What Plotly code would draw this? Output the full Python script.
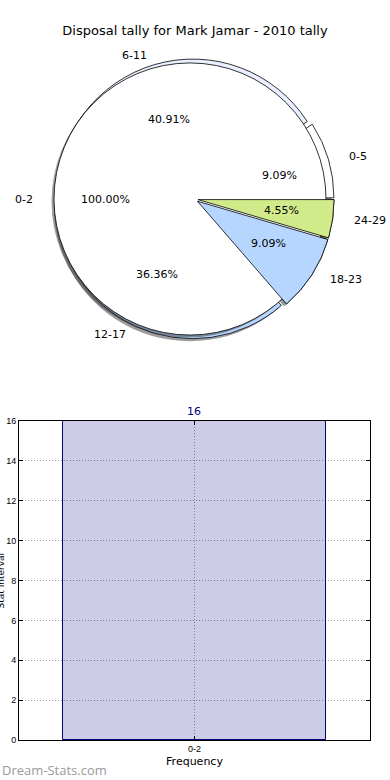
import math
import plotly.graph_objects as go

# ---------------- data ----------------
title_text = "Disposal tally for Mark Jamar - 2010 tally"

pie_labels = ["0-5", "6-11", "12-17", "18-23", "24-29"]
pie_counts = [2, 9, 8, 2, 1]
pie_colors = ["#ffffff", "#e8efff", "#b6d6ff", "#b6d6ff", "#d1eb8b"]
pie_explode = [0.03, 0.03, 0.03, 0.03, 0.03]

overlay_labels = ["0-2"]
overlay_counts = [16]
overlay_colors = ["#ffffff"]

bar_categories = ["0-2"]
bar_values = [16]
y_tick_values = [0, 2, 4, 6, 8, 10, 12, 14, 16]

# ---------------- geometry (pixels) ----------------
W, H = 390, 780
CX, CY = 194, 199          # centre of the exploded pie
BX = 190                   # centre x of the overlay pie
R = 136                    # drawn pie radius
RX, RY = 141, 132          # label placement radii
SHX, SHY = -2.5, 2.5       # shadow offset


def px(x):
    return x / W


def py(y):
    return 1 - y / H


def dom(cx, cy, half):
    return dict(x=[px(cx - half), px(cx + half)], y=[py(cy + half), py(cy - half)])


maxpull = max(pie_explode)
halfA = R * (1 + maxpull)
halfB = R

# plotly puts the first counter-clockwise slice clockwise of `rotation`;
# shift so that the first slice starts at 3 o'clock and runs counter-clockwise
rot_main = 90 - 360 * pie_counts[0] / sum(pie_counts)

fig = go.Figure()

common = dict(sort=False, direction="counterclockwise",
              textinfo="none", hoverinfo="skip", showlegend=False)

shadow_col = "rgba(40,40,40,0.45)"
# shadow of exploded pie
fig.add_trace(go.Pie(labels=pie_labels, values=pie_counts, pull=pie_explode, rotation=rot_main,
                     marker=dict(colors=[shadow_col] * len(pie_counts), line=dict(width=0)),
                     domain=dom(CX + SHX, CY + SHY, halfA), **common))
# exploded pie
fig.add_trace(go.Pie(labels=pie_labels, values=pie_counts, pull=pie_explode, rotation=rot_main,
                     marker=dict(colors=pie_colors, line=dict(color="black", width=0.8)),
                     domain=dom(CX, CY, halfA), **common))
# shadow of overlay pie
fig.add_trace(go.Pie(labels=overlay_labels, values=overlay_counts, rotation=90,
                     marker=dict(colors=[shadow_col], line=dict(width=0)),
                     domain=dom(BX + SHX, CY + SHY, halfB), **common))
# overlay pie
fig.add_trace(go.Pie(labels=overlay_labels, values=overlay_counts, rotation=90,
                     marker=dict(colors=overlay_colors, line=dict(color="black", width=0.8)),
                     domain=dom(BX, CY, halfB), **common))
# front slices of exploded pie (18-23, 24-29)
front = [lab in ("18-23", "24-29") for lab in pie_labels]
fig.add_trace(go.Pie(labels=pie_labels, values=pie_counts, pull=pie_explode, rotation=rot_main,
                     marker=dict(colors=[c if f else "rgba(0,0,0,0)" for c, f in zip(pie_colors, front)],
                                 line=dict(color=["black" if f else "rgba(0,0,0,0)" for f in front],
                                           width=[0.8 if f else 0 for f in front])),
                     domain=dom(CX, CY, halfA), **common))

# ---------------- pie labels (computed from data) ----------------
lab_font = dict(family="DejaVu Sans", size=11, color="black")


def add_pie_labels(labels, counts, explode, cx):
    total = sum(counts)
    start = 0.0
    for lab, cnt, ex in zip(labels, counts, explode):
        frac = cnt / total
        mid = math.radians((start + frac / 2) * 360)
        start += frac
        c, s = math.cos(mid), math.sin(mid)
        ox, oy = cx + ex * RX * c, CY - ex * RY * s
        lx, ly = ox + 1.1 * RX * c, oy - 1.1 * RY * s
        fig.add_annotation(x=px(lx), y=py(ly), xref="paper", yref="paper",
                           text=lab, showarrow=False, font=lab_font,
                           xanchor="left" if c > 0 else "right", yanchor="middle")
        tx, ty = ox + 0.6 * RX * c, oy - 0.6 * RY * s
        fig.add_annotation(x=px(tx), y=py(ty), xref="paper", yref="paper",
                           text=f"{frac * 100:.2f}%", showarrow=False, font=lab_font,
                           xanchor="center", yanchor="middle")


add_pie_labels(pie_labels, pie_counts, pie_explode, CX)
add_pie_labels(overlay_labels, overlay_counts, [0.0], BX)

# ---------------- bar chart ----------------
fig.add_trace(go.Bar(x=bar_categories, y=bar_values, width=0.75,
                     marker=dict(color="rgba(0,0,128,0.2)", line=dict(color="#000080", width=1)),
                     text=[str(v) for v in bar_values], textposition="outside",
                     textfont=dict(family="DejaVu Sans", size=11, color="#000080"),
                     cliponaxis=False, hoverinfo="skip", showlegend=False))

axis_common = dict(showline=True, linecolor="black", linewidth=1, mirror="allticks",
                   ticks="inside", ticklen=4, tickcolor="black",
                   showgrid=True, gridcolor="#9a9a9a", griddash="1px,2px", gridwidth=1,
                   zeroline=False, automargin=False,
                   tickfont=dict(family="Liberation Sans", size=9, color="black"))

fig.update_layout(
    width=W, height=H, template="none",
    paper_bgcolor="white", plot_bgcolor="white",
    margin=dict(l=0, r=0, t=0, b=0),
    title=dict(text=title_text, x=0.5, xanchor="center", y=py(30), yanchor="middle",
               font=dict(family="DejaVu Sans", size=13, color="black")),
    xaxis=dict(domain=[px(19), px(370)], range=[-0.5, 0.5], type="category",
               title=dict(text="Frequency", standoff=4,
                          font=dict(family="DejaVu Sans", size=11, color="black")),
               **axis_common),
    yaxis=dict(domain=[py(740), py(421)], range=[0, 16], tickvals=y_tick_values,
               **axis_common),
    bargap=0,
)

# clipped y-axis title and watermark
fig.add_annotation(x=0, y=(py(740) + py(421)) / 2, xref="paper", yref="paper",
                   text="Stat Interval", textangle=-90, showarrow=False, xshift=0,
                   xanchor="center", yanchor="middle",
                   font=dict(family="DejaVu Sans", size=9, color="black"))
fig.add_annotation(x=0, y=py(770), xref="paper", yref="paper",
                   text="Dream-Stats.com", showarrow=False,
                   xanchor="left", yanchor="middle",
                   font=dict(family="Open Sans", size=13, color="#9a9a9a"))

fig.write_html("out.html", config={"displayModeBar": False},
               post_script="document.body.style.margin='0';")
